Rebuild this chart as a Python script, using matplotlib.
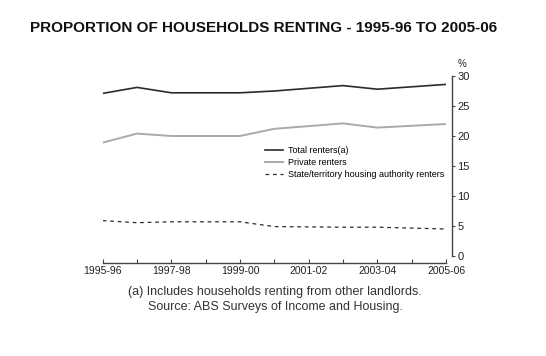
import matplotlib
matplotlib.use("Agg")
import matplotlib.pyplot as plt

# ---- data ----
survey_years = ["1995-96", "1996-97", "1997-98", "1999-00", "2000-01", "2002-03", "2003-04", "2005-06"]
total_renters = [27.1, 28.1, 27.2, 27.2, 27.5, 28.4, 27.8, 28.6]
private_renters = [18.9, 20.4, 20.0, 20.0, 21.2, 22.1, 21.4, 22.0]
public_renters = [5.9, 5.55, 5.7, 5.7, 4.9, 4.8, 4.8, 4.5]
tick_years = ["1995-96", "1996-97", "1997-98", "1998-99", "1999-00", "2000-01",
              "2001-02", "2002-03", "2003-04", "2004-05", "2005-06"]
label_years = ["1995-96", "1997-98", "1999-00", "2001-02", "2003-04", "2005-06"]
y_ticks = [0, 5, 10, 15, 20, 25, 30]

series_names = ["Total renters(a)", "Private renters", "State/territory housing authority renters"]

plt.rcParams['font.family'] = ['Liberation Sans', 'DejaVu Sans']

W, H = 546, 356
fig = plt.figure(figsize=(W / 100, H / 100), dpi=100)

x0, x1 = 102.7, 446.0
ytop, ybot = 76.0, 256.0
ax = fig.add_axes([x0 / W, (H - ybot) / H, (x1 - x0) / W, (ybot - ytop) / H])

def pos(label):
    return int(label[:4]) - 1995

xs = [pos(s) for s in survey_years]
ax.plot(xs, total_renters, color="#2b2b2b", lw=1.2, label=series_names[0])
ax.plot(xs, private_renters, color="#aaaaaa", lw=1.4, label=series_names[1])
ax.plot(xs, public_renters, color="#2b2b2b", lw=0.9, ls=(0, (3, 3)), label=series_names[2])

ax.set_xlim(0, 10)
ax.set_ylim(0, 30)

for s in ["top", "left"]:
    ax.spines[s].set_visible(False)
ax.spines["right"].set_position(("outward", 5.7 * 0.72))
ax.spines["bottom"].set_position(("outward", 6.7 * 0.72))
ax.spines["right"].set_bounds(0, 30)
ax.spines["bottom"].set_bounds(0, 10)
for s in ["right", "bottom"]:
    ax.spines[s].set_color("#444444")
    ax.spines[s].set_linewidth(1.0)

ax.yaxis.tick_right()
ax.set_yticks(y_ticks)
ax.set_yticklabels([str(v) for v in y_ticks])
ax.set_xticks([pos(t) for t in tick_years])
ax.set_xticklabels([t if t in label_years else "" for t in tick_years])
ax.tick_params(axis="x", direction="in", length=3, width=0.8, color="#444444",
               labelsize=7.5, pad=2.5, labelcolor="#222222")
ax.tick_params(axis="y", direction="out", length=2, width=0.8, color="#444444",
               labelsize=8, pad=2, labelcolor="#222222")

fig.text(462 / W, 1 - 64 / H, "%", fontsize=7, ha="center", va="center", color="#222222")

fig.text(264 / W, 1 - 28 / H, "PROPORTION OF HOUSEHOLDS RENTING - 1995-96 TO 2005-06",
         fontsize=11, fontweight="bold", ha="center", va="center", color="#111111")
fig.text(275 / W, 1 - 292 / H, "(a) Includes households renting from other landlords.",
         fontsize=9, ha="center", va="center", color="#333333")
fig.text(275 / W, 1 - 306.7 / H, "Source: ABS Surveys of Income and Housing.",
         fontsize=9, ha="center", va="center", color="#333333")

leg = ax.legend(loc="upper left", bbox_to_anchor=(265 / W, 1 - 146 / H),
                bbox_transform=fig.transFigure, frameon=False, fontsize=6.5,
                handlelength=2.0, handletextpad=0.5, labelspacing=0.35,
                borderpad=0, borderaxespad=0)

fig.savefig("out.png", dpi=100)
